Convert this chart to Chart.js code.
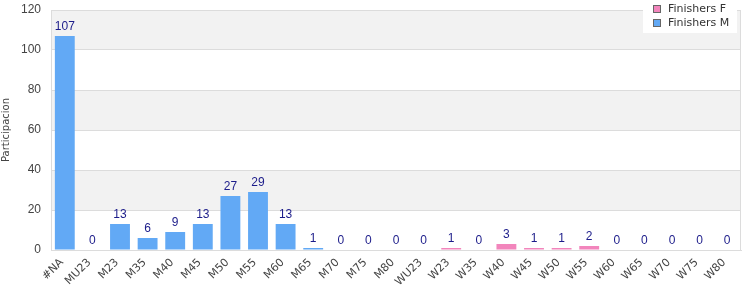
<!DOCTYPE html>
<html>
<head>
<meta charset="utf-8">
<script src="https://cdn.jsdelivr.net/npm/chart.js@4"></script>
<style>
  html, body { margin: 0; padding: 0; background: #fff; }
  #wrap { width: 750px; height: 300px; }
</style>
</head>
<body>
<div id="wrap"><canvas id="chart"></canvas></div>
<script>
const categories = ['#NA', 'MU23', 'M23', 'M35', 'M40', 'M45', 'M50', 'M55', 'M60', 'M65', 'M70', 'M75', 'M80',
    'WU23', 'W23', 'W35', 'W40', 'W45', 'W50', 'W55', 'W60', 'W65', 'W70', 'W75', 'W80'];
const finishersM = [107, 0, 13, 6, 9, 13, 27, 29, 13, 1, 0, 0, 0,
    null, null, null, null, null, null, null, null, null, null, null, null];
const finishersF = [null, null, null, null, null, null, null, null, null, null, null, null, null,
    0, 1, 0, 3, 1, 1, 2, 0, 0, 0, 0, 0];
const yTicks = [0, 20, 40, 60, 80, 100, 120];

const FONT = "'DejaVu Sans', Verdana, sans-serif";
const ARIAL = "'Liberation Sans', Arial, sans-serif";

// alternating grey bands behind the bars
const bandsPlugin = {
    id: 'bands',
    beforeDraw(chart) {
        const { ctx, chartArea, scales } = chart;
        ctx.save();
        ctx.fillStyle = '#f2f2f2';
        for (let i = 1; i < yTicks.length - 1; i += 2) {
            const top = scales.y.getPixelForValue(yTicks[i + 1]);
            const bottom = scales.y.getPixelForValue(yTicks[i]);
            ctx.fillRect(chartArea.left, top, chartArea.right - chartArea.left, bottom - top);
        }
        ctx.restore();
    },
    afterDraw(chart) {
        const { ctx, chartArea } = chart;
        ctx.save();
        ctx.strokeStyle = '#dcdcdc';
        ctx.lineWidth = 1;
        ctx.strokeRect(chartArea.left + 0.5, chartArea.top + 0.5,
            chartArea.right - chartArea.left - 1, chartArea.bottom - chartArea.top);
        ctx.restore();
    }
};

// value labels above each bar
const valueLabels = {
    id: 'valueLabels',
    afterDatasetsDraw(chart) {
        const { ctx } = chart;
        ctx.save();
        ctx.font = '12px ' + ARIAL;
        ctx.fillStyle = '#1c1c8a';
        ctx.textAlign = 'center';
        ctx.textBaseline = 'bottom';
        chart.data.datasets.forEach((ds, di) => {
            const meta = chart.getDatasetMeta(di);
            meta.data.forEach((bar, i) => {
                const v = ds.data[i];
                if (v === null) return;
                ctx.fillText(String(v), bar.x, bar.y - 3);
            });
        });
        ctx.restore();
    }
};

// small boxed legend in the top right corner
const cornerLegend = {
    id: 'cornerLegend',
    afterDraw(chart) {
        const { ctx } = chart;
        const x = 643, y = 0, w = 94, h = 33;
        ctx.save();
        ctx.fillStyle = '#ffffff';
        ctx.fillRect(x, y, w, h);
        ctx.font = '11px ' + FONT;
        ctx.textBaseline = 'middle';
        chart.data.datasets.forEach((ds, i) => {
            const cy = y + 9 + i * 14;
            ctx.fillStyle = ds.backgroundColor;
            ctx.fillRect(x + 10, cy - 4, 8, 8);
            ctx.strokeStyle = '#666';
            ctx.lineWidth = 1;
            ctx.strokeRect(x + 10.5, cy - 3.5, 7, 7);
            ctx.fillStyle = '#333';
            ctx.fillText(ds.label, x + 25, cy);
        });
        ctx.restore();
    }
};

new Chart(document.getElementById('chart'), {
    type: 'bar',
    data: {
        labels: categories,
        datasets: [
            {
                label: 'Finishers F',
                data: finishersF,
                backgroundColor: '#f285bc',
                barPercentage: 0.72,
                categoryPercentage: 1
            },
            {
                label: 'Finishers M',
                data: finishersM,
                backgroundColor: '#62a9f5',
                barPercentage: 0.72,
                categoryPercentage: 1
            }
        ]
    },
    options: {
        responsive: true,
        maintainAspectRatio: false,
        animation: false,
        layout: { padding: { top: 10, right: 9, left: 0, bottom: 0 } },
        plugins: {
            legend: { display: false },
            tooltip: { enabled: false }
        },
        scales: {
            x: {
                stacked: true,
                grid: { display: false, drawTicks: false },
                border: { display: true, color: '#dcdcdc' },
                ticks: {
                    color: '#444',
                    font: { family: FONT, size: 11 },
                    minRotation: 45,
                    maxRotation: 45,
                    autoSkip: false,
                    padding: 6,
                    labelOffset: -3
                },
                afterFit(scale) {
                    scale.height = 50;
                    scale.paddingLeft = 0;
                    scale.paddingRight = 0;
                }
            },
            y: {
                stacked: true,
                min: 0,
                max: 120,
                grid: { color: '#dcdcdc', drawTicks: false },
                border: { display: false },
                ticks: {
                    stepSize: 20,
                    color: '#444',
                    font: { family: ARIAL, size: 12 },
                    padding: 10
                },
                title: {
                    display: true,
                    text: 'Participacion',
                    color: '#444',
                    font: { family: FONT, size: 10 },
                    padding: 0
                },
                afterFit(scale) {
                    scale.width = 51;
                    scale.paddingTop = 0;
                    scale.paddingBottom = 0;
                }
            }
        }
    },
    plugins: [bandsPlugin, valueLabels, cornerLegend]
});
</script>
</body>
</html>
